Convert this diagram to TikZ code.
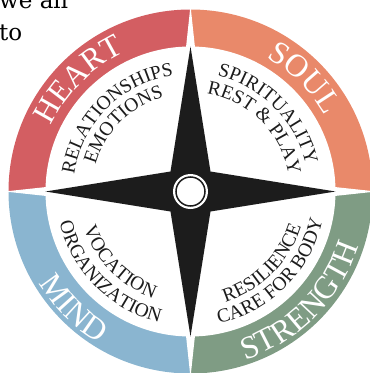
\documentclass[tikz,border=0pt]{standalone}
\usepackage{fontspec}
\setmainfont{Liberation Serif}
\newfontfamily\bodyfont{DejaVu Serif}
\usetikzlibrary{decorations.text}
\definecolor{heartred}{RGB}{211,94,98}
\definecolor{soulorange}{RGB}{233,137,106}
\definecolor{mindblue}{RGB}{138,181,208}
\definecolor{strengthgreen}{RGB}{127,156,132}
\definecolor{compassblack}{RGB}{28,28,28}
\newcommand\bandfont{\fontsize{32}{32}\selectfont}
\newcommand\innerfont{\fontsize{19.5}{19.5}\selectfont}

\begin{document}
\begin{tikzpicture}[x=1pt,y=1pt,
   bandlabel/.style={decorate,decoration={text along path,text align=center,text color=white}},
   innerlabel/.style={decorate,decoration={text along path,text align=center,text color=compassblack}},
   bodytext/.style={anchor=base west,inner sep=0pt,font=\bodyfont\fontsize{23}{23}\selectfont}]
\useasboundingbox (-190.5,-181.5) rectangle (179.5,191.5);
\node[bodytext] (weall) at (-191.5,183.5) {we all};
\node[bodytext] (to) at (-191.5,151.5) {to};
% four coloured quarters
\fill[soulorange] (0,0) -- (0:182) arc[start angle=0,end angle=90,radius=182] -- cycle;
\fill[heartred] (0,0) -- (90:182) arc[start angle=90,end angle=180,radius=182] -- cycle;
\fill[mindblue] (0,0) -- (180:182) arc[start angle=180,end angle=270,radius=182] -- cycle;
\fill[strengthgreen] (0,0) -- (270:182) arc[start angle=270,end angle=360,radius=182] -- cycle;
\fill[white] (0,186) -- (18,18) -- (186,0) -- (18,-18) -- (0,-186) -- (-18,-18) -- (-186,0) -- (-18,18) -- cycle;
\fill[white] (0,0) circle[radius=145];
% compass rose
\fill[compassblack] (0,145) -- (20,20) -- (145,0) -- (20,-20) -- (0,-145) -- (-20,-20) -- (-145,0) -- (-20,20) -- cycle;
\fill[white] (0,0) circle[radius=17.5];
\draw[compassblack,line width=1.5pt] (0,0) circle[radius=14.5];
% band labels
\path[bandlabel,decoration={text={|\bandfont|HEART}}] (180:154) arc[start angle=180,end angle=90,radius=154];
\path[bandlabel,decoration={text={|\bandfont|SOUL}}] (90:154) arc[start angle=90,end angle=0,radius=154];
\path[bandlabel,decoration={text={|\bandfont|MIND}}] (180:177) arc[start angle=180,end angle=270,radius=177];
\path[bandlabel,decoration={text={|\bandfont|STRENGTH}}] (270:177) arc[start angle=270,end angle=360,radius=177];
% inner labels
\path[innerlabel,decoration={text={|\innerfont|RELATIONSHIPS}}] (180:117.5) arc[start angle=180,end angle=90,radius=117.5];
\path[innerlabel,decoration={text={|\innerfont|EMOTIONS}}] (180:98.5) arc[start angle=180,end angle=90,radius=98.5];
\path[innerlabel,decoration={text={|\innerfont|SPIRITUALITY}}] (90:118.5) arc[start angle=90,end angle=0,radius=118.5];
\path[innerlabel,decoration={text={|\innerfont|REST {\&} PLAY}}] (90:99.5) arc[start angle=90,end angle=0,radius=99.5];
\path[innerlabel,decoration={text={|\innerfont|VOCATION}}] (180:113) arc[start angle=180,end angle=270,radius=113];
\path[innerlabel,decoration={text={|\innerfont|ORGANIZATION}}] (180:134.5) arc[start angle=180,end angle=270,radius=134.5];
\path[innerlabel,decoration={text={|\innerfont|RESILIENCE}}] (270:116) arc[start angle=270,end angle=360,radius=116];
\path[innerlabel,decoration={text={|\innerfont|CARE FOR BODY}}] (270:135) arc[start angle=270,end angle=360,radius=135];
\end{tikzpicture}
\end{document}
